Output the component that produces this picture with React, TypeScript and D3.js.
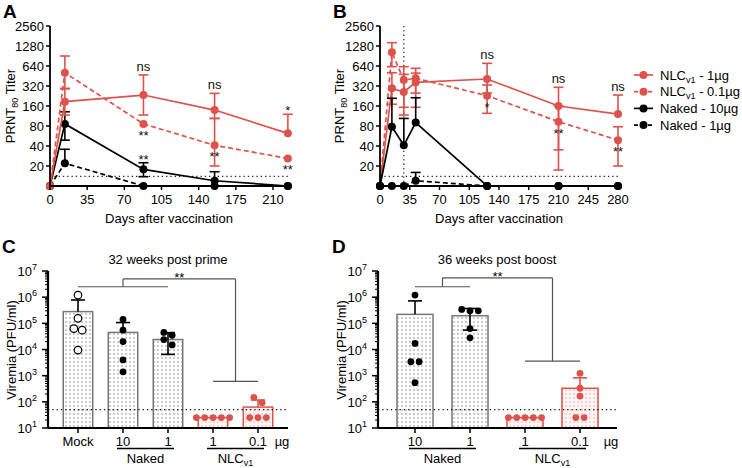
import React from 'react';
import * as d3 from 'd3';

const RED = '#DD524B';
const FONT = "'Liberation Sans', Arial, Helvetica, sans-serif";

// ---------- Panel A : titers after prime ----------
const daysA = [0, 14, 88, 155, 224];
const aNlc1 = [10, 186, 234, 139, 62];
const aNlc1Hi = [null, 290, 470, 248, 120];
const aNlc1Lo = [null, 117, 117, 104, null];
const aNlc01 = [10, 507, 86, 41, 26];
const aNlc01Hi = [null, 905, null, 104, null];
const aNlc01Lo = [null, 295, null, 20, null];
const aNaked10 = [10, 86, 17.8, 12, 10];
const aNaked10Hi = [null, 131, 22.4, 16.4, null];
const aNaked10Lo = [null, 49, 13.8, null, null];
const aNaked1 = [10, 22, 10, 10, 10];
const aNaked1Hi = [null, 35.7, null, null, null];
const aNaked1Lo = [null, null, null, null, null];
const aTicksX = [0, 35, 70, 105, 140, 175, 210];
const aAnnots = [
  { s: 'nlc1', i: 2, text: 'ns', kind: 'ns' },
  { s: 'nlc01', i: 2, text: '**', kind: 'below' },
  { s: 'naked10', i: 2, text: '**', kind: 'above' },
  { s: 'nlc1', i: 3, text: 'ns', kind: 'ns' },
  { s: 'nlc01', i: 3, text: '**', kind: 'below' },
  { s: 'nlc1', i: 4, text: '*', kind: 'above' },
  { s: 'nlc01', i: 4, text: '**', kind: 'below' },
];

// ---------- Panel B : titers with boost ----------
const daysB = [0, 14, 28, 42, 126, 210, 280];
const bNlc1 = [10, 295, 260, 363, 408, 160, 121];
const bNlc1Hi = [null, 507, 480, 500, 702, 306, 234];
const bNlc1Lo = [null, 170, 117, 153, 250, 35, null];
const bNlc01 = [10, 1030, 394, 418, 229, 93, 49];
const bNlc01Hi = [null, 1435, 625, 591, 331, 160, 78];
const bNlc01Lo = [null, 625, 153, 250, 124, 17.4, 20];
const bNaked10 = [10, 78, 41, 90, 10, 10, 10];
const bNaked10Hi = [null, 209, 104, 213, null, null, null];
const bNaked10Lo = [null, null, null, null, null, null, null];
const bNaked1 = [10, 10, 10, 12, 10, 10, 10];
const bNaked1Hi = [null, null, null, 16, null, null, null];
const bNaked1Lo = [null, null, null, null, null, null, null];
const bTicksX = [0, 35, 70, 105, 140, 175, 210, 245, 280];
const bBoostDay = 28;
const bAnnots = [
  { s: 'nlc1', i: 4, text: 'ns', kind: 'ns' },
  { s: 'nlc01', i: 4, text: '*', kind: 'below' },
  { s: 'nlc1', i: 5, text: 'ns', kind: 'ns' },
  { s: 'nlc01', i: 5, text: '**', kind: 'below' },
  { s: 'nlc1', i: 6, text: 'ns', kind: 'ns' },
  { s: 'nlc01', i: 6, text: '**', kind: 'below' },
];

const titerTicks = [20, 40, 80, 160, 320, 640, 1280, 2560];
const titerLOD = 14;

// legend
const legendNames = ['NLC', 'NLC', 'Naked', 'Naked'];
const legendSubs = ['v1', 'v1', '', ''];
const legendDoses = [' - 1µg', ' - 0.1µg', ' - 10µg', ' - 1µg'];
const legendRed = [true, true, false, false];
const legendDashed = [false, true, false, true];

// ---------- Panel C : viremia 32 weeks post prime ----------
const cCats = ['Mock', '10', '1', '1', '0.1'];
const cMeans = [2.8e5, 4.5e4, 2.4e4, 25, 63];
const cHi = [7.8e5, 1.07e5, 4.4e4, null, 117];
const cLo = [null, null, 6.5e3, null, null];
const cPoints = [
  [1.2e6, 1.55e5, 6.3e4, 5.5e4, 9.5e3],
  [1.4e5, 5.5e4, 2.0e4, 4.0e3, 1.4e3],
  [4.5e4, 3.5e4, 2.4e4, 1.5e4],
  [25, 25, 25, 25, 25],
  [148, 93, 25, 25, 25],
];
const cRed = [false, false, false, true, true];
const cOpen = [true, false, false, false, false];
const cGroups = [{ name: 'Naked', sub: '', from: 1, to: 2 }, { name: 'NLC', sub: 'v1', from: 3, to: 4 }];
const cBracket = { left: [0, 2], right: [3, 4], leftLevel: 2.5e6, topLevel: 5e6, rightLevel: 600, text: '**' };

// ---------- Panel D : viremia 36 weeks post boost ----------
const dCats = ['10', '1', '1', '0.1'];
const dMeans = [2.2e5, 1.95e5, 25, 330];
const dHi = [7.2e5, 3.7e5, null, 830];
const dLo = [null, 5.5e4, null, null];
const dPoints = [
  [1.2e6, 1.7e4, 3.4e3, 3.4e3, 540],
  [3.0e5, 3.0e5, 3.4e5, 6.3e4, 2.8e4],
  [25, 25, 25, 25, 25],
  [1230, 330, 166, 25, 25],
];
const dRed = [false, false, true, true];
const dOpen = [false, false, false, false];
const dGroups = [{ name: 'Naked', sub: '', from: 0, to: 1 }, { name: 'NLC', sub: 'v1', from: 2, to: 3 }];
const dBracket = { left: [0, 1], right: [2, 3], leftLevel: 2.5e6, topLevel: 5.5e6, rightLevel: 3600, text: '**' };

const viremiaLOD = 50;

// ---------- scales ----------
const yTiter = d3.scaleLog().base(2).domain([10, 2560]).range([186, 26]);
const yVir = d3.scaleLog().domain([10, 1e7]).range([428, 271]);

type Ser = { key: string; vals: number[]; hi: (number | null)[]; lo: (number | null)[]; color: string; dashed: boolean };

function LinePanel({ x, days, series, annots, xTicks, vline, letter, letterX, ylabX, xlabX }: any) {
  const y = yTiter;
  const [x0, x1] = x.range();
  const yb = y(10);
  const yt = y(2560);
  const byKey: Record<string, Ser> = {};
  series.forEach((s: Ser) => (byKey[s.key] = s));
  const lineGen = (vals: number[]) =>
    d3.line<number>().x((_, i) => x(days[i])).y((v) => y(v))(vals) || '';
  return (
    <g>
      <text x={letterX} y={18} fontSize={19} fontWeight="bold">{letter}</text>
      <line x1={x0} x2={x1} y1={y(titerLOD)} y2={y(titerLOD)} stroke="#222" strokeWidth={1.3} strokeDasharray="1.3,3" />
      {vline != null && (
        <line x1={x(vline)} x2={x(vline)} y1={yt} y2={yb} stroke="#333" strokeWidth={1.3} strokeDasharray="1.3,3" />
      )}
      {series.map((s: Ser) => (
        <g key={s.key}>
          <path d={lineGen(s.vals)} fill="none" stroke={s.color} strokeWidth={1.7} strokeDasharray={s.dashed ? '5,3' : undefined} />
          {s.vals.map((v, i) => {
            const hi = s.hi[i];
            const lo = s.lo[i];
            const cx = x(days[i]);
            return (
              <g key={i} stroke={s.color} strokeWidth={1.6}>
                {hi != null && <line x1={cx} x2={cx} y1={y(v)} y2={y(hi)} />}
                {hi != null && <line x1={cx - 5} x2={cx + 5} y1={y(hi)} y2={y(hi)} />}
                {lo != null && <line x1={cx} x2={cx} y1={y(v)} y2={y(lo)} />}
                {lo != null && <line x1={cx - 5} x2={cx + 5} y1={y(lo)} y2={y(lo)} />}
              </g>
            );
          })}
          {s.vals.map((v, i) => (
            <circle key={'c' + i} cx={x(days[i])} cy={y(v)} r={4} fill={s.color} />
          ))}
        </g>
      ))}
      {annots.map((a: any, k: number) => {
        const s = byKey[a.s];
        const cx = x(days[a.i]);
        let yy = 0;
        if (a.kind === 'ns') yy = y(s.hi[a.i] as number) - 4;
        else if (a.kind === 'above') yy = y(s.hi[a.i] as number) + 1;
        else yy = y(s.vals[a.i]) + 16;
        return (
          <text key={k} x={cx} y={yy} textAnchor="middle" fontSize={13} fill="#111">{a.text}</text>
        );
      })}
      <line x1={x0} x2={x0} y1={yt} y2={yb} stroke="#000" strokeWidth={1.8} />
      <line x1={x0} x2={x1} y1={yb} y2={yb} stroke="#000" strokeWidth={1.8} />
      {titerTicks.map((t) => (
        <g key={t}>
          <line x1={x0 - 4} x2={x0} y1={y(t)} y2={y(t)} stroke="#000" strokeWidth={1.5} />
          <text x={x0 - 6} y={y(t)} dy="0.35em" textAnchor="end" fontSize={13}>{t}</text>
        </g>
      ))}
      {xTicks.map((t: number) => (
        <g key={t}>
          <line x1={x(t)} x2={x(t)} y1={yb} y2={yb + 4} stroke="#000" strokeWidth={1.5} />
          <text x={x(t)} y={yb + 18} textAnchor="middle" fontSize={13}>{t}</text>
        </g>
      ))}
      <text x={xlabX} y={223} textAnchor="middle" fontSize={13}>Days after vaccination</text>
      <text transform={`translate(${ylabX},106) rotate(-90)`} textAnchor="middle" fontSize={13}>
        PRNT<tspan dy={3} fontSize={9}>80</tspan><tspan dy={-3}> Titer</tspan>
      </text>
    </g>
  );
}

function swarmOffsets(vals: number[], y: (v: number) => number, r: number) {
  const step = 2 * r + 1.5;
  const idx = vals.map((v, i) => ({ i, yy: y(v) })).sort((a, b) => a.yy - b.yy);
  const out = new Array(vals.length).fill(0);
  let row: { i: number; yy: number }[] = [];
  const flush = () => {
    row.forEach((p, j) => (out[p.i] = (j - (row.length - 1) / 2) * step));
    row = [];
  };
  idx.forEach((p) => {
    if (row.length && p.yy - row[0].yy >= 2 * r) flush();
    row.push(p);
  });
  flush();
  return out;
}

function BarPanel({ letter, range, axisX0, axisX1, cats, means, hi, lo, points, red, open, groups, bracket, title, titleX, ylabX }: any) {
  const y = yVir;
  const x = d3.scaleBand<number>().domain(cats.map((_: any, i: number) => i)).range(range).paddingInner(0.345).paddingOuter(0.1725);
  const bw = x.bandwidth();
  const cx = (i: number) => (x(i) as number) + bw / 2;
  const yb = y(10);
  const yt = y(1e7);
  const r = 3.4;
  const majors = [10, 100, 1e3, 1e4, 1e5, 1e6, 1e7];
  const minors: number[] = [];
  for (let e = 1; e < 7; e++) for (let m = 2; m <= 9; m++) minors.push(m * Math.pow(10, e));
  const lMid = (cx(bracket.left[0]) + cx(bracket.left[1])) / 2;
  const rMid = (cx(bracket.right[0]) + cx(bracket.right[1])) / 2;
  return (
    <g>
      <text x={axisX0 - 46} y={253} fontSize={19} fontWeight="bold">{letter}</text>
      <text x={titleX} y={264} textAnchor="middle" fontSize={13}>{title}</text>
      {means.map((m: number, i: number) => (
        <rect key={i} x={x(i)} y={y(m)} width={bw} height={yb - y(m)}
          fill={`url(#${red[i] ? 'dotR' : 'dotK'})`} stroke={red[i] ? RED : '#777'} strokeWidth={1.5} />
      ))}
      <line x1={axisX0} x2={axisX1} y1={y(viremiaLOD)} y2={y(viremiaLOD)} stroke="#111" strokeWidth={1.3} strokeDasharray="1.3,3" />
      {means.map((m: number, i: number) => {
        const c = red[i] ? RED : '#000';
        const h = hi[i];
        const l = lo[i];
        return (
          <g key={'e' + i} stroke={c} strokeWidth={1.6}>
            {h != null && <line x1={cx(i)} x2={cx(i)} y1={y(m)} y2={y(h)} />}
            {h != null && <line x1={cx(i) - 7} x2={cx(i) + 7} y1={y(h)} y2={y(h)} />}
            {l != null && <line x1={cx(i)} x2={cx(i)} y1={y(m)} y2={y(l)} />}
            {l != null && <line x1={cx(i) - 7} x2={cx(i) + 7} y1={y(l)} y2={y(l)} />}
          </g>
        );
      })}
      {points.map((pts: number[], i: number) => {
        const offs = swarmOffsets(pts, (v) => y(v), r);
        return pts.map((v, j) => (
          <circle key={i + '-' + j} cx={cx(i) + offs[j]} cy={y(v)} r={open[i] ? r + 0.4 : r}
            fill={open[i] ? '#fff' : red[i] ? RED : '#000'} stroke={open[i] ? '#000' : 'none'} strokeWidth={1.2} />
        ));
      })}
      <g stroke="#555" strokeWidth={1.2} fill="none">
        <line x1={cx(bracket.left[0])} x2={cx(bracket.left[1])} y1={y(bracket.leftLevel)} y2={y(bracket.leftLevel)} />
        <line x1={lMid} x2={lMid} y1={y(bracket.leftLevel)} y2={y(bracket.topLevel)} />
        <line x1={lMid} x2={rMid} y1={y(bracket.topLevel)} y2={y(bracket.topLevel)} />
        <line x1={rMid} x2={rMid} y1={y(bracket.topLevel)} y2={y(bracket.rightLevel)} />
        <line x1={cx(bracket.right[0])} x2={cx(bracket.right[1])} y1={y(bracket.rightLevel)} y2={y(bracket.rightLevel)} />
      </g>
      <text x={(lMid + rMid) / 2} y={y(bracket.topLevel) + 3} textAnchor="middle" fontSize={13}>{bracket.text}</text>
      <line x1={axisX0} x2={axisX0} y1={yt} y2={yb} stroke="#000" strokeWidth={2.2} />
      {minors.map((t) => (
        <line key={t} x1={axisX0 - 3} x2={axisX0} y1={y(t)} y2={y(t)} stroke="#000" strokeWidth={1} />
      ))}
      {majors.map((t) => (
        <g key={t}>
          <line x1={axisX0 - 6} x2={axisX0} y1={y(t)} y2={y(t)} stroke="#000" strokeWidth={1.5} />
          <text x={axisX0 - 11} y={y(t)} dy="0.4em" textAnchor="end" fontSize={13}>
            10<tspan dy={-6} fontSize={9}>{Math.round(Math.log10(t))}</tspan>
          </text>
        </g>
      ))}
      <text transform={`translate(${ylabX},350) rotate(-90)`} textAnchor="middle" fontSize={13}>Viremia (PFU/ml)</text>
      <line x1={axisX0} x2={axisX1} y1={yb} y2={yb} stroke="#000" strokeWidth={2.2} />
      {cats.map((c: string, i: number) => (
        <g key={'x' + i}>
          <line x1={cx(i)} x2={cx(i)} y1={yb} y2={yb + 5} stroke="#000" strokeWidth={1.5} />
          <text x={cx(i)} y={446} textAnchor="middle" fontSize={13}>{c}</text>
        </g>
      ))}
      <text x={axisX1 - 6} y={446} textAnchor="middle" fontSize={13}>µg</text>
      {groups.map((g: any, k: number) => {
        const gx0 = cx(g.from) - 6;
        const gx1 = cx(g.to) + 6;
        return (
          <g key={'g' + k}>
            <line x1={gx0} x2={gx1} y1={448.5} y2={448.5} stroke="#000" strokeWidth={1.5} />
            <text x={(gx0 + gx1) / 2} y={463} textAnchor="middle" fontSize={13}>
              {g.name}
              {g.sub ? <tspan dy={3} fontSize={9}>{g.sub}</tspan> : null}
            </text>
          </g>
        );
      })}
    </g>
  );
}

export default function App() {
  const mk = (key: string, vals: number[], hi: any[], lo: any[], red: boolean, dashed: boolean): Ser => ({
    key, vals, hi, lo, color: red ? RED : '#000', dashed,
  });
  const seriesA = [
    mk('naked1', aNaked1, aNaked1Hi, aNaked1Lo, false, true),
    mk('naked10', aNaked10, aNaked10Hi, aNaked10Lo, false, false),
    mk('nlc01', aNlc01, aNlc01Hi, aNlc01Lo, true, true),
    mk('nlc1', aNlc1, aNlc1Hi, aNlc1Lo, true, false),
  ];
  const seriesB = [
    mk('nlc01', bNlc01, bNlc01Hi, bNlc01Lo, true, true),
    mk('nlc1', bNlc1, bNlc1Hi, bNlc1Lo, true, false),
    mk('naked1', bNaked1, bNaked1Hi, bNaked1Lo, false, true),
    mk('naked10', bNaked10, bNaked10Hi, bNaked10Lo, false, false),
  ];
  const xA = d3.scaleLinear().domain([0, 226]).range([50, 290]);
  const xB = d3.scaleLinear().domain([0, 280]).range([380, 618]);
  return (
    <svg width={742} height={468} style={{ position: 'absolute', left: 0, top: 0, background: '#fff' }} fontFamily={FONT}>
      <defs>
        <pattern id="dotK" width={4} height={4} patternUnits="userSpaceOnUse">
          <rect width={4} height={4} fill="#fff" />
          <rect x={1.5} y={1.5} width={1} height={1} fill="#333" />
        </pattern>
        <pattern id="dotR" width={4} height={4} patternUnits="userSpaceOnUse">
          <rect width={4} height={4} fill="#fff5f4" />
          <rect x={1.5} y={1.5} width={1} height={1} fill={RED} opacity={0.8} />
        </pattern>
      </defs>
      <rect width={742} height={468} fill="#fff" />
      <LinePanel x={xA} days={daysA} series={seriesA} annots={aAnnots} xTicks={aTicksX} vline={null} letter="A" letterX={3} ylabX={15} xlabX={169} />
      <LinePanel x={xB} days={daysB} series={seriesB} annots={bAnnots} xTicks={bTicksX} vline={bBoostDay} letter="B" letterX={333} ylabX={344} xlabX={499} />
      {legendNames.map((n, i) => {
        const yy = 75 + i * 16.7;
        const c = legendRed[i] ? RED : '#000';
        return (
          <g key={i}>
            <line x1={634} x2={653} y1={yy} y2={yy} stroke={c} strokeWidth={1.7} strokeDasharray={legendDashed[i] ? '4,3' : undefined} />
            <circle cx={643.5} cy={yy} r={4} fill={c} />
            <text x={660} y={yy + 4.5} fontSize={13}>
              {n}
              {legendSubs[i] ? <tspan dy={3} fontSize={9}>{legendSubs[i]}</tspan> : null}
              <tspan dy={legendSubs[i] ? -3 : 0}>{legendDoses[i]}</tspan>
            </text>
          </g>
        );
      })}
      <BarPanel letter="C" range={[55.5, 280.5]} axisX0={48} axisX1={288} cats={cCats} means={cMeans} hi={cHi} lo={cLo}
        points={cPoints} red={cRed} open={cOpen} groups={cGroups} bracket={cBracket} title="32 weeks post prime" titleX={168} ylabX={16} />
      <BarPanel letter="D" range={[387.5, 607.5]} axisX0={378} axisX1={617} cats={dCats} means={dMeans} hi={dHi} lo={dLo}
        points={dPoints} red={dRed} open={dOpen} groups={dGroups} bracket={dBracket} title="36 weeks post boost" titleX={497} ylabX={346} />
    </svg>
  );
}
